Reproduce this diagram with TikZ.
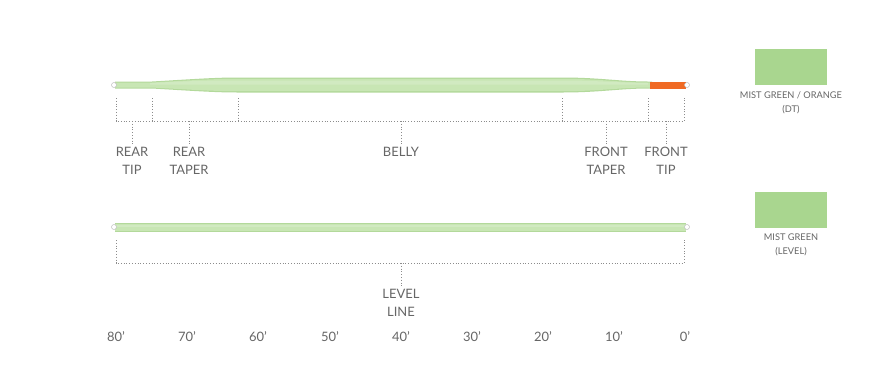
\documentclass[tikz,border=0pt]{standalone}
\usepackage{fontspec}
\setmainfont{Lato}
\definecolor{linegreen}{HTML}{C8E6B4}
\definecolor{edgegreen}{HTML}{B3D99B}
\definecolor{swgreen}{HTML}{A9D68F}
\definecolor{tiporange}{HTML}{F06A24}
\definecolor{txtgray}{HTML}{666666}
\definecolor{dotgray}{HTML}{8C8C8C}
\tikzset{
  lbl/.style={text=txtgray, font=\fontsize{13}{18}\selectfont, align=center, inner sep=0pt},
  small/.style={text=txtgray, font=\fontsize{9.3}{14}\selectfont, align=center, inner sep=0pt},
  dots/.style={draw=dotgray, dotted, line width=0.8pt},
  swatch/.style={fill=swgreen, draw=none, minimum width=72bp, minimum height=36bp, inner sep=0pt},
  endcap/.style={circle, draw=gray!50, fill=white, line width=0.5pt, minimum size=5bp, inner sep=0pt}
}
\begin{document}
\begin{tikzpicture}[x=1bp,y=-1bp]
\useasboundingbox[fill=white] (0,0) rectangle (880,382);
% ---- top (DT) line ----
\fill[edgegreen] (115,81.5) -- (152,81.5) .. controls (195,79) and (215,77.5) .. (238,77.5) -- (562,77.5)
  .. controls (600,77.5) and (620,81.5) .. (648,81.5) -- (652,81.5)
  -- (652,88.5) -- (648,88.5) .. controls (620,88.5) and (600,92.5) .. (562,92.5) -- (238,92.5)
  .. controls (215,92.5) and (195,91) .. (152,88.5) -- (115,88.5) -- cycle;
\fill[linegreen] (115,82.5) -- (152,82.5) .. controls (195,80) and (215,78.8) .. (238,78.8) -- (562,78.8)
  .. controls (600,78.8) and (620,82.5) .. (648,82.5) -- (652,82.5)
  -- (652,87.5) -- (648,87.5) .. controls (620,87.5) and (600,91.2) .. (562,91.2) -- (238,91.2)
  .. controls (215,91.2) and (195,90) .. (152,87.5) -- (115,87.5) -- cycle;
\fill[white,opacity=0.18] (150,83) .. controls (200,80.5) and (215,80.5) .. (238,80.5) -- (562,80.5)
  .. controls (600,80.5) and (620,83) .. (648,83) -- (648,84.5) -- (150,84.5) -- cycle;
\fill[tiporange] (650,81.5) rectangle (686,88.5);
\node[endcap] (dtl) at (114,85) {};
\node[endcap] (dtr) at (687,85) {};
% dotted markers
\coordinate (a1) at (116,98); \coordinate (a2) at (152,98); \coordinate (a3) at (238,98);
\coordinate (a4) at (562,98); \coordinate (a5) at (648,98); \coordinate (a6) at (684,98);
\coordinate (b1) at (116,121); \coordinate (b2) at (152,121); \coordinate (b3) at (238,121);
\coordinate (b4) at (562,121); \coordinate (b5) at (648,121); \coordinate (b6) at (684,121);
\draw[dots] (a1) -- (b1) -- (b6) -- (a6);
\draw[dots] (a2) -- (b2);
\draw[dots] (a3) -- (b3);
\draw[dots] (a4) -- (b4);
\draw[dots] (a5) -- (b5);
\node[lbl] (rtip) at (132,161) {REAR\\TIP};
\node[lbl] (rtaper) at (189,161) {REAR\\TAPER};
\node[lbl] (belly) at (401,152) {BELLY};
\node[lbl] (ftaper) at (606,161) {FRONT\\TAPER};
\node[lbl] (ftip) at (666,161) {FRONT\\TIP};
\draw[dots] (132,121) -- ([yshift=3bp]rtip.north);
\draw[dots] (189,121) -- ([yshift=3bp]rtaper.north);
\draw[dots] (401,121) -- ([yshift=3bp]belly.north);
\draw[dots] (606,121) -- ([yshift=3bp]ftaper.north);
\draw[dots] (666,121) -- ([yshift=3bp]ftip.north);
% ---- level line ----
\fill[edgegreen] (115,222.5) rectangle (686,231.5);
\fill[linegreen] (115,223.5) rectangle (686,230.5);
\fill[white,opacity=0.18] (115,225) rectangle (686,227);
\node[endcap] (lvl) at (114,227) {};
\node[endcap] (lvr) at (687,227) {};
\coordinate (c1) at (116,240); \coordinate (c2) at (684,240);
\coordinate (d1) at (116,263); \coordinate (d2) at (684,263);
\draw[dots] (c1) -- (d1) -- (d2) -- (c2);
\node[lbl] (level) at (401,303) {LEVEL\\LINE};
\draw[dots] (401,263) -- ([yshift=3bp]level.north);
% ---- scale ----
\foreach \v/\x in {80/116,70/187,60/258,50/330,40/401,30/472,20/543,10/614,0/685}
  \node[lbl] (ft\v) at (\x,337) {\v'};
% ---- swatches ----
\node[swatch] (sw1) at (791,67) {};
\node[small] (sw1t) at (791,103) {MIST GREEN / ORANGE\\(DT)};
\node[swatch] (sw2) at (791,210) {};
\node[small] (sw2t) at (791,245) {MIST GREEN\\(LEVEL)};
\end{tikzpicture}
\end{document}
